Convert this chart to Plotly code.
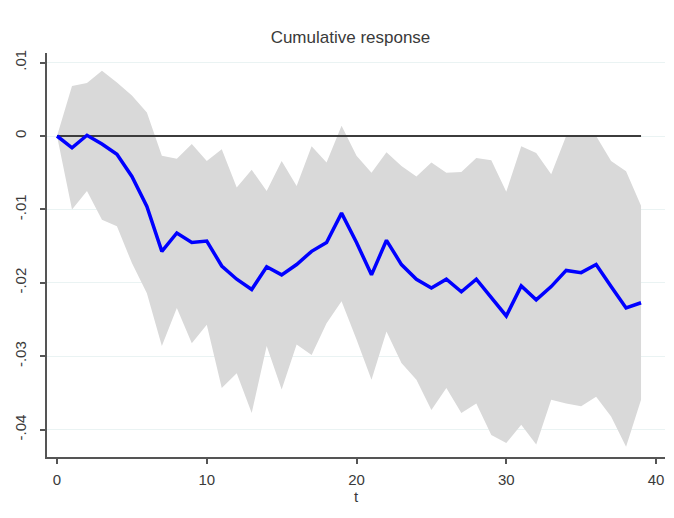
import plotly.graph_objects as go

# Horizon (periods after the shock)
t = list(range(40))

# Point estimate of the cumulative impulse response
response = [0.0, -0.0016, 0.0001, -0.0011, -0.0025, -0.0055, -0.0096, -0.0157, -0.0132, -0.0145,
            -0.0143, -0.0177, -0.0195, -0.0209, -0.0178, -0.0189, -0.0175, -0.0157, -0.0145, -0.0105,
            -0.0145, -0.0189, -0.0142, -0.0175, -0.0195, -0.0207, -0.0195, -0.0212, -0.0195, -0.0220,
            -0.0245, -0.0204, -0.0223, -0.0205, -0.0183, -0.0186, -0.0175, -0.0205, -0.0234, -0.0227]

# Confidence band bounds
upper = [0.0, 0.0068, 0.0072, 0.0089, 0.0073, 0.0055, 0.0032, -0.0027, -0.0031, -0.0011,
         -0.0034, -0.0018, -0.0070, -0.0046, -0.0075, -0.0034, -0.0068, -0.0014, -0.0036, 0.0014,
         -0.0027, -0.0050, -0.0022, -0.0041, -0.0055, -0.0036, -0.0050, -0.0049, -0.0030, -0.0033,
         -0.0076, -0.0014, -0.0023, -0.0052, 0.0000, 0.0000, 0.0000, -0.0034, -0.0048, -0.0095]
lower = [0.0, -0.0100, -0.0075, -0.0114, -0.0123, -0.0173, -0.0214, -0.0286, -0.0234, -0.0282,
         -0.0257, -0.0343, -0.0323, -0.0377, -0.0286, -0.0345, -0.0284, -0.0298, -0.0255, -0.0225,
         -0.0277, -0.0332, -0.0266, -0.0309, -0.0332, -0.0373, -0.0343, -0.0377, -0.0364, -0.0407,
         -0.0418, -0.0393, -0.0420, -0.0359, -0.0364, -0.0368, -0.0355, -0.0382, -0.0423, -0.0359]

y_ticks = [0.01, 0.0, -0.01, -0.02, -0.03, -0.04]
y_tick_labels = [".01", "0", "-.01", "-.02", "-.03", "-.04"]
x_ticks = [0, 10, 20, 30, 40]

band_color = "#d9d9d9"

fig = go.Figure()

fig.add_trace(go.Scatter(x=t, y=upper, mode="lines", line=dict(width=0, color=band_color),
                         showlegend=False, hoverinfo="skip"))
fig.add_trace(go.Scatter(x=t, y=lower, mode="lines", line=dict(width=0, color=band_color),
                         fill="tonexty", fillcolor=band_color, showlegend=False, hoverinfo="skip"))
# Zero reference line
fig.add_trace(go.Scatter(x=[t[0], t[-1]], y=[0, 0], mode="lines",
                         line=dict(color="#3c3c3c", width=1.8), showlegend=False))
fig.add_trace(go.Scatter(x=t, y=response, mode="lines",
                         line=dict(color="#0000ff", width=3.5), showlegend=False))

font_family = "Liberation Sans, Arial, sans-serif"
text_color = "#3a3a3a"

fig.update_layout(
    width=674, height=518,
    margin=dict(l=47, r=9, t=53, b=61),
    paper_bgcolor="white", plot_bgcolor="white",
    font=dict(family=font_family, color=text_color, size=15),
    title=dict(text="Cumulative response", x=0.52, xanchor="center", y=1 - 37 / 518, yanchor="middle",
               font=dict(size=17, color=text_color, family=font_family)),
    xaxis=dict(range=[-0.67, 40.6], tickvals=x_ticks, ticks="outside", ticklen=5, tickwidth=1.5,
               tickcolor="#555555", showline=True, linecolor="#555555", linewidth=2,
               showgrid=False, zeroline=False, tickfont=dict(size=15, color=text_color),
               ticklabelstandoff=3,
               title=dict(text="t", standoff=0, font=dict(size=15, color=text_color))),
    yaxis=dict(range=[-0.0437, 0.0113], tickvals=y_ticks, ticktext=y_tick_labels, tickangle=-90,
               ticks="outside", ticklen=5, tickwidth=1.5, tickcolor="#555555",
               showline=True, linecolor="#555555", linewidth=2, ticklabelstandoff=8,
               showgrid=True, gridcolor="#eaf3f3", gridwidth=1, zeroline=False,
               tickfont=dict(size=15, color=text_color)),
)

fig.write_html("out.html")
